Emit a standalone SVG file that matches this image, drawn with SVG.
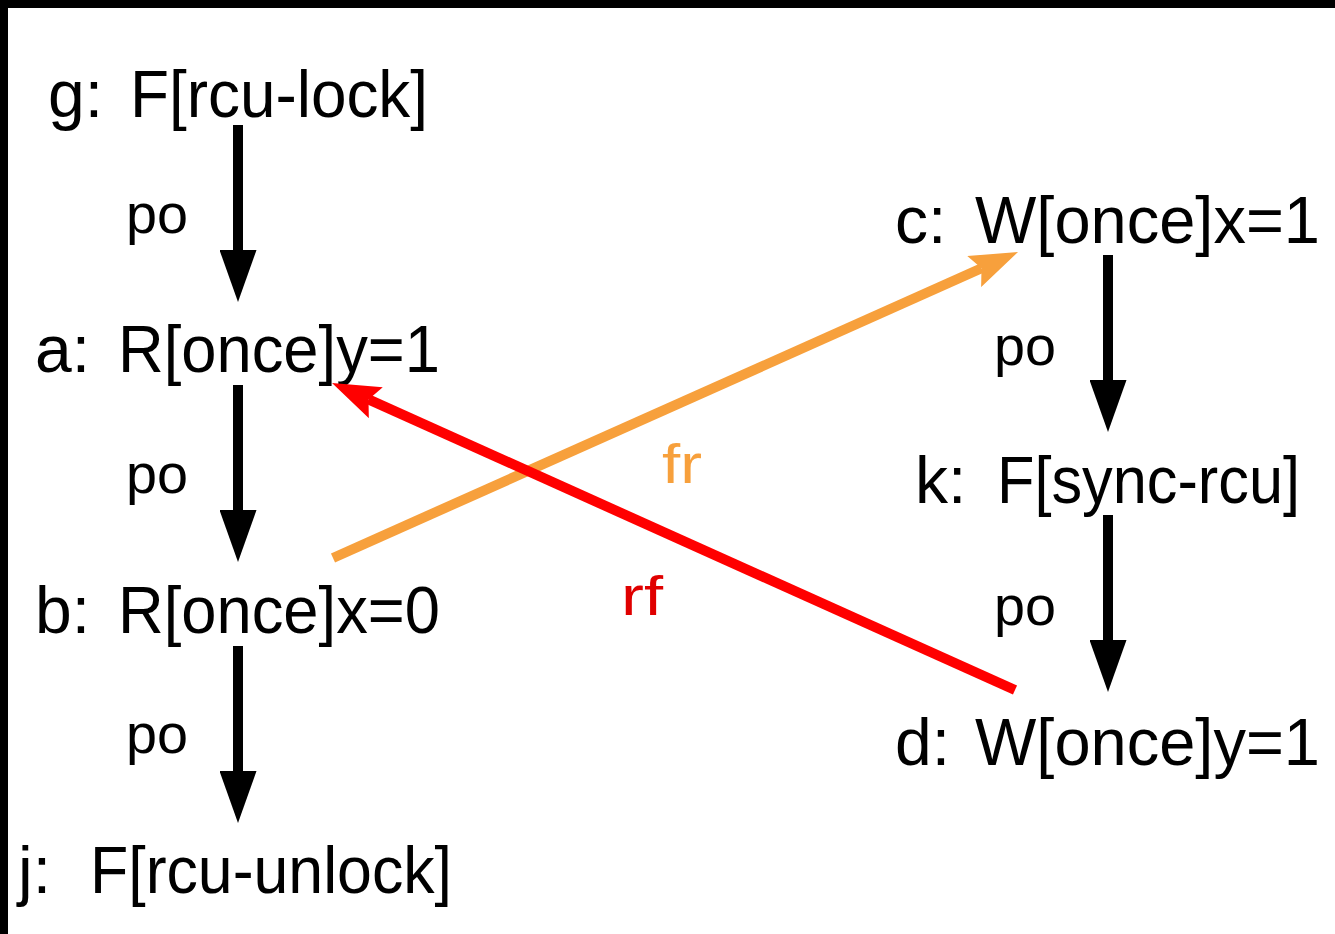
<svg xmlns="http://www.w3.org/2000/svg" width="1335" height="934" viewBox="0 0 1335 934">
<style>
.t{font-family:"Liberation Sans",Arial,sans-serif;font-size:66px;fill:#000}
.po{font-family:"Liberation Sans",Arial,sans-serif;font-size:56px;fill:#000}
.po-line{stroke:#000;stroke-width:10;fill:none}
.fr{stroke:#f7a03c;stroke-width:10;fill:none}
.rf{stroke:#ff0000;stroke-width:10;fill:none}
</style>
<defs>
<marker id="ah" markerUnits="userSpaceOnUse" viewBox="0 0 52 37" markerWidth="52" markerHeight="37" refX="0" refY="18.5" orient="auto"><path d="M0,0 L52,18.5 L0,37 z" fill="#000"/></marker>
<marker id="ahO" markerUnits="userSpaceOnUse" viewBox="0 0 48 34" markerWidth="48" markerHeight="34" refX="8" refY="17" orient="auto"><path d="M0,0 L48,17 L0,34 L8,17 z" fill="#f7a03c"/></marker>
<marker id="ahR" markerUnits="userSpaceOnUse" viewBox="0 0 48 34" markerWidth="48" markerHeight="34" refX="8" refY="17" orient="auto"><path d="M0,0 L48,17 L0,34 L8,17 z" fill="#ff0000"/></marker>
</defs>
<rect x="0" y="0" width="1335" height="934" fill="#fff"/>
<rect x="0" y="0" width="1335" height="8" fill="#000"/>
<rect x="0" y="0" width="8" height="934" fill="#000"/>
<g id="node-g"><text class="t" x="48" y="117">g:</text><text class="t" x="130" y="117" textLength="298" lengthAdjust="spacingAndGlyphs">F[rcu-lock]</text></g>
<g id="node-a"><text class="t" x="35" y="372">a:</text><text class="t" x="118" y="372" textLength="322" lengthAdjust="spacingAndGlyphs">R[once]y=1</text></g>
<g id="node-b"><text class="t" x="35" y="633">b:</text><text class="t" x="118" y="633" textLength="322" lengthAdjust="spacingAndGlyphs">R[once]x=0</text></g>
<g id="node-j"><text class="t" x="18" y="893">j:</text><text class="t" x="90" y="893" textLength="362" lengthAdjust="spacingAndGlyphs">F[rcu-unlock]</text></g>
<g id="node-c"><text class="t" x="895" y="243">c:</text><text class="t" x="975" y="243" textLength="345" lengthAdjust="spacingAndGlyphs">W[once]x=1</text></g>
<g id="node-k"><text class="t" x="915" y="503">k:</text><text class="t" x="997" y="503" textLength="303" lengthAdjust="spacingAndGlyphs">F[sync-rcu]</text></g>
<g id="node-d"><text class="t" x="895" y="765">d:</text><text class="t" x="975" y="765" textLength="345" lengthAdjust="spacingAndGlyphs">W[once]y=1</text></g>
<g id="connectors">
<line class="po-line" x1="238" y1="125" x2="238" y2="250" marker-end="url(#ah)"/>
<line class="po-line" x1="238" y1="385" x2="238" y2="510" marker-end="url(#ah)"/>
<line class="po-line" x1="238" y1="646" x2="238" y2="771" marker-end="url(#ah)"/>
<line class="po-line" x1="1108" y1="255" x2="1108" y2="380" marker-end="url(#ah)"/>
<line class="po-line" x1="1108" y1="515" x2="1108" y2="640" marker-end="url(#ah)"/>
<line class="fr" x1="333" y1="558" x2="981.5" y2="268.3" marker-end="url(#ahO)"/>
<line class="rf" x1="1015" y1="690" x2="368.5" y2="399.4" marker-end="url(#ahR)"/>
<text class="po" x="126" y="233" textLength="62" lengthAdjust="spacingAndGlyphs">po</text>
<text class="po" x="126" y="493" textLength="62" lengthAdjust="spacingAndGlyphs">po</text>
<text class="po" x="126" y="753" textLength="62" lengthAdjust="spacingAndGlyphs">po</text>
<text class="po" x="994" y="365" textLength="62" lengthAdjust="spacingAndGlyphs">po</text>
<text class="po" x="994" y="625" textLength="62" lengthAdjust="spacingAndGlyphs">po</text>
<text class="po" x="662" y="483" style="fill:#f7a03c" textLength="40" lengthAdjust="spacingAndGlyphs">fr</text>
<text class="po" x="621" y="615" style="fill:#e00000" textLength="42" lengthAdjust="spacingAndGlyphs">rf</text>
</g>
</svg>
